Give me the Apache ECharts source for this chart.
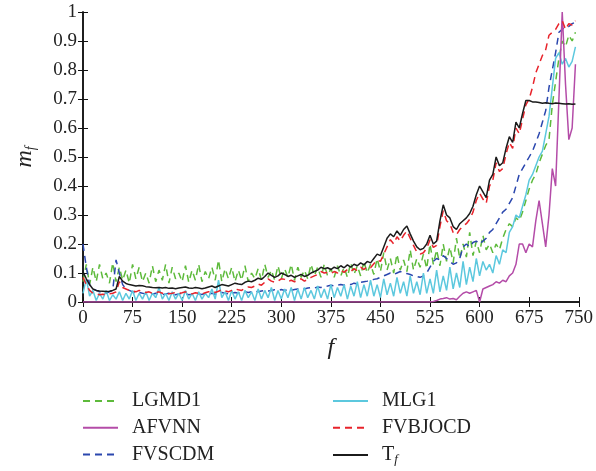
<!DOCTYPE html>
<html><head><meta charset="utf-8">
<script src="https://cdn.jsdelivr.net/npm/echarts@6/dist/echarts.min.js"></script>
<style>html,body{margin:0;padding:0;background:#fff}#c{width:596px;height:471px}</style>
</head><body><div id="c"></div>
<script>
// frame index of each sample (every 5th frame)
const frameStep = 5;
const seriesNames = ['LGMD1', 'AFVNN', 'FVSCDM', 'MLG1', 'FVBJOCD', 'Tf'];
const xTicks = [0, 75, 150, 225, 300, 375, 450, 525, 600, 675, 750];
const yTicks = [0, 0.1, 0.2, 0.3, 0.4, 0.5, 0.6, 0.7, 0.8, 0.9, 1];

const LGMD1 = [0.07,0.13,0.06,0.12,0.07,0.13,0.08,0.1,0.065,0.135,0.07,0.12,0.075,0.11,0.065,0.13,0.08,0.12,0.07,0.1,
0.065,0.125,0.07,0.11,0.075,0.13,0.065,0.12,0.08,0.1,0.07,0.125,0.068,0.11,0.075,0.13,0.07,0.105,0.08,0.12,
0.075,0.145,0.07,0.115,0.08,0.12,0.07,0.11,0.075,0.125,0.07,0.1,0.08,0.115,0.075,0.13,0.085,0.11,0.075,0.125,
0.08,0.115,0.085,0.13,0.075,0.12,0.085,0.11,0.08,0.13,0.09,0.12,0.085,0.13,0.09,0.115,0.085,0.125,0.09,0.12,
0.085,0.135,0.095,0.125,0.09,0.14,0.1,0.13,0.095,0.15,0.105,0.17,0.11,0.15,0.1,0.165,0.11,0.145,0.105,0.18,
0.11,0.15,0.12,0.165,0.115,0.2,0.13,0.18,0.125,0.2,0.14,0.19,0.135,0.22,0.15,0.2,0.155,0.24,0.16,0.21,
0.17,0.23,0.18,0.2,0.17,0.2,0.18,0.22,0.25,0.27,0.26,0.29,0.28,0.31,0.35,0.39,0.42,0.44,0.48,0.51,
0.54,0.56,0.68,0.76,0.84,0.9,0.88,0.92,0.9,0.93];

const AFVNN = [0,0,0,0,0,0,0,0,0,0,0,0,0,0,0,0,0,0,0,0,
0,0,0,0,0,0,0,0,0,0,0,0,0,0,0,0,0,0,0,0,
0,0,0,0,0,0,0,0,0,0,0,0,0,0,0,0,0,0,0,0,
0,0,0,0,0,0,0,0,0,0,0,0,0,0,0,0,0,0,0,0,
0,0,0,0,0,0,0,0,0,0,0,0,0,0,0,0,0,0,0,0,
0,0,0,0,0,0,0.002,0.005,0.01,0.012,0.015,0.01,0.012,0.008,0.02,0.03,0.035,0.03,0.035,0.04,
0.0,0.045,0.05,0.055,0.06,0.07,0.065,0.075,0.07,0.09,0.1,0.13,0.2,0.2,0.17,0.2,0.19,0.28,0.35,0.27,
0.19,0.3,0.46,0.4,0.7,1.0,0.75,0.56,0.6,0.82];

const FVSCDM = [0.2,0.12,0.06,0.045,0.04,0.035,0.035,0.03,0.035,0.04,0.145,0.1,0.06,0.045,0.04,0.035,0.03,0.033,0.03,0.028,
0.03,0.027,0.03,0.028,0.025,0.028,0.03,0.027,0.025,0.028,0.03,0.028,0.025,0.027,0.03,0.028,0.026,0.03,0.028,0.03,
0.027,0.03,0.033,0.03,0.028,0.03,0.033,0.03,0.032,0.035,0.033,0.035,0.038,0.035,0.038,0.04,0.038,0.04,0.042,0.04,
0.043,0.04,0.042,0.04,0.043,0.045,0.042,0.045,0.048,0.05,0.048,0.052,0.05,0.053,0.055,0.058,0.055,0.058,0.06,0.058,
0.062,0.06,0.065,0.062,0.068,0.07,0.072,0.075,0.078,0.08,0.085,0.09,0.095,0.1,0.095,0.1,0.105,0.1,0.098,0.095,
0.09,0.088,0.085,0.09,0.1,0.12,0.14,0.15,0.145,0.16,0.15,0.14,0.13,0.135,0.15,0.19,0.2,0.19,0.205,0.21,
0.2,0.21,0.22,0.24,0.25,0.27,0.29,0.31,0.32,0.34,0.36,0.4,0.44,0.46,0.48,0.5,0.52,0.55,0.58,0.62,
0.66,0.74,0.8,0.86,0.93,0.94,0.95,0.95,0.96,0.965];

const MLG1 = [0.03,0.08,0.02,0.04,0.005,0.03,0.01,0.04,0.005,0.025,0.01,0.035,0.005,0.03,0.01,0.04,0.005,0.03,0.01,0.035,
0.005,0.03,0.015,0.05,0.01,0.03,0.005,0.035,0.01,0.03,0.005,0.04,0.01,0.03,0.005,0.035,0.01,0.03,0.015,0.045,
0.01,0.075,0.015,0.035,0.005,0.04,0.01,0.035,0.005,0.04,0.015,0.035,0.005,0.045,0.01,0.04,0.015,0.05,0.005,0.04,
0.01,0.045,0.015,0.05,0.005,0.045,0.01,0.05,0.015,0.04,0.01,0.055,0.015,0.045,0.01,0.06,0.015,0.05,0.02,0.06,
0.01,0.055,0.02,0.07,0.015,0.06,0.02,0.075,0.02,0.06,0.015,0.08,0.025,0.065,0.02,0.085,0.03,0.07,0.02,0.09,
0.03,0.07,0.025,0.1,0.03,0.08,0.03,0.11,0.035,0.09,0.04,0.12,0.045,0.1,0.05,0.14,0.06,0.12,0.07,0.15,
0.09,0.14,0.11,0.13,0.1,0.16,0.13,0.18,0.17,0.24,0.26,0.3,0.29,0.33,0.37,0.42,0.44,0.47,0.5,0.52,
0.58,0.64,0.74,0.84,0.86,0.82,0.84,0.81,0.83,0.88];

const FVBJOCD = [0.085,0.06,0.04,0.03,0.028,0.025,0.027,0.025,0.028,0.03,0.035,0.07,0.05,0.045,0.04,0.038,0.035,0.04,0.036,0.033,
0.035,0.03,0.032,0.035,0.03,0.032,0.028,0.03,0.033,0.03,0.032,0.035,0.03,0.028,0.032,0.03,0.028,0.032,0.035,0.038,
0.033,0.037,0.042,0.038,0.035,0.04,0.045,0.042,0.04,0.048,0.052,0.05,0.055,0.062,0.058,0.068,0.08,0.072,0.068,0.072,
0.08,0.078,0.07,0.075,0.07,0.075,0.08,0.072,0.078,0.085,0.09,0.095,0.105,0.1,0.102,0.098,0.105,0.1,0.11,0.102,
0.112,0.105,0.115,0.108,0.12,0.112,0.122,0.118,0.132,0.145,0.14,0.165,0.19,0.215,0.2,0.225,0.21,0.23,0.245,0.22,
0.195,0.172,0.165,0.17,0.185,0.215,0.188,0.195,0.26,0.315,0.28,0.27,0.24,0.232,0.25,0.262,0.27,0.285,0.31,0.35,
0.375,0.355,0.34,0.4,0.42,0.48,0.45,0.46,0.51,0.55,0.53,0.6,0.58,0.63,0.68,0.7,0.74,0.79,0.82,0.85,
0.87,0.92,0.93,0.94,0.96,0.97,0.94,0.96,0.955,0.97];

const Tf = [0.104,0.08,0.06,0.045,0.04,0.038,0.037,0.036,0.037,0.04,0.045,0.088,0.072,0.064,0.06,0.058,0.055,0.057,0.056,0.053,
0.052,0.05,0.049,0.05,0.048,0.05,0.047,0.048,0.046,0.048,0.05,0.052,0.048,0.047,0.05,0.048,0.046,0.048,0.052,0.055,
0.05,0.055,0.06,0.058,0.055,0.06,0.065,0.062,0.06,0.068,0.072,0.07,0.075,0.082,0.078,0.088,0.1,0.092,0.085,0.09,
0.1,0.095,0.088,0.092,0.085,0.09,0.095,0.088,0.092,0.1,0.105,0.11,0.12,0.115,0.118,0.112,0.12,0.115,0.125,0.118,
0.128,0.12,0.13,0.125,0.135,0.128,0.14,0.135,0.15,0.165,0.16,0.19,0.22,0.235,0.225,0.245,0.23,0.25,0.262,0.235,
0.21,0.19,0.18,0.185,0.2,0.23,0.2,0.21,0.28,0.335,0.3,0.29,0.26,0.25,0.27,0.28,0.29,0.305,0.33,0.37,
0.4,0.38,0.36,0.42,0.44,0.5,0.47,0.48,0.53,0.57,0.55,0.62,0.6,0.65,0.695,0.695,0.69,0.69,0.688,0.685,
0.687,0.685,0.684,0.686,0.685,0.684,0.683,0.684,0.682,0.683];

const colors = {LGMD1:'#5dba3b', AFVNN:'#b44ca8', FVSCDM:'#2b47ae', MLG1:'#5cc8de', FVBJOCD:'#e8232b', Tf:'#1b1b1b'};
const dashed = {LGMD1:true, AFVNN:false, FVSCDM:true, MLG1:false, FVBJOCD:true, Tf:false};
const valuesByName = {LGMD1, AFVNN, FVSCDM, MLG1, FVBJOCD, Tf};

const FONT = '"Liberation Serif", "DejaVu Serif", serif';
const drawOrder = ['LGMD1','FVSCDM','MLG1','AFVNN','FVBJOCD','Tf'];

const series = drawOrder.map(n => ({
  name: n, type: 'line', symbol: 'none', animation: false,
  data: valuesByName[n].map((v, i) => [i * frameStep, v]),
  lineStyle: {color: colors[n], width: 1.5, type: dashed[n] ? [7, 5] : 'solid'},
  itemStyle: {color: colors[n]},
  clip: true
}));

const legendText = {
  fontFamily: FONT, fontSize: 20, color: '#222', lineHeight: 22, padding: [0, 0, 0, 9],
  rich: {
    t: {fontFamily: FONT, fontSize: 20, color: '#222', lineHeight: 22},
    s: {fontFamily: FONT, fontSize: 13, fontStyle: 'italic', color: '#222', lineHeight: 22, padding: [10, 0, 0, 0]}
  }
};
const legendFmt = n => n === 'Tf' ? '{t|T}{s|f}' : n;
const legendCommon = {
  orient: 'vertical', top: 390, height: 120, itemWidth: 35, itemHeight: 14, itemGap: 4.7,
  textStyle: legendText, formatter: legendFmt, selectedMode: false,
  itemStyle: {opacity: 0}, padding: 0
};

const chart = echarts.init(document.getElementById('c'), null, {renderer: 'canvas'});
chart.setOption({
  backgroundColor: '#fff',
  animation: false,
  grid: {left: 83, right: 14, top: 12, bottom: 169, containLabel: false},
  legend: [
    Object.assign({left: 82, data: ['LGMD1','AFVNN','FVSCDM']}, legendCommon),
    Object.assign({left: 332, data: ['MLG1','FVBJOCD','Tf']}, legendCommon)
  ],
  xAxis: [
    {type: 'value', min: xTicks[0], max: xTicks[xTicks.length-1], interval: 75, position: 'bottom',
     name: 'f', nameLocation: 'middle', nameGap: 34,
     nameTextStyle: {fontFamily: FONT, fontSize: 24, fontStyle: 'italic', color: '#222'},
     axisLine: {lineStyle: {color: '#111', width: 1.5}},
     axisTick: {inside: true, length: 5, lineStyle: {color: '#111', width: 1}},
     axisLabel: {fontFamily: FONT, fontSize: 19, color: '#222', margin: 7},
     splitLine: {show: false}},
    {type: 'value', min: xTicks[0], max: xTicks[xTicks.length-1], interval: 75, position: 'top',
     axisLine: {lineStyle: {color: '#111', width: 1.5}},
     axisTick: {inside: true, length: 5, lineStyle: {color: '#111', width: 1}},
     axisLabel: {show: false}, splitLine: {show: false}}
  ],
  yAxis: [
    {type: 'value', min: yTicks[0], max: yTicks[yTicks.length-1], interval: 0.1, position: 'left',
     name: '{m|m}{s|f}', nameLocation: 'middle', nameGap: 45, nameRotate: 90,
     nameTextStyle: {rich: {
       m: {fontFamily: FONT, fontSize: 24, fontStyle: 'italic', color: '#222'},
       s: {fontFamily: FONT, fontSize: 14, fontStyle: 'italic', color: '#222', padding: [12, 0, 0, 0]}
     }},
     axisLine: {lineStyle: {color: '#111', width: 1.5}},
     axisTick: {inside: true, length: 5, lineStyle: {color: '#111', width: 1}},
     axisLabel: {fontFamily: FONT, fontSize: 19, color: '#222', margin: 6,
       formatter: v => String(Math.round(v * 10) / 10)},
     splitLine: {show: false}},
    {type: 'value', min: yTicks[0], max: yTicks[yTicks.length-1], interval: 0.1, position: 'right',
     axisLine: {lineStyle: {color: '#111', width: 1.5}},
     axisTick: {inside: true, length: 5, lineStyle: {color: '#111', width: 1}},
     axisLabel: {show: false}, splitLine: {show: false}}
  ],
  series: series
});
</script></body></html>
